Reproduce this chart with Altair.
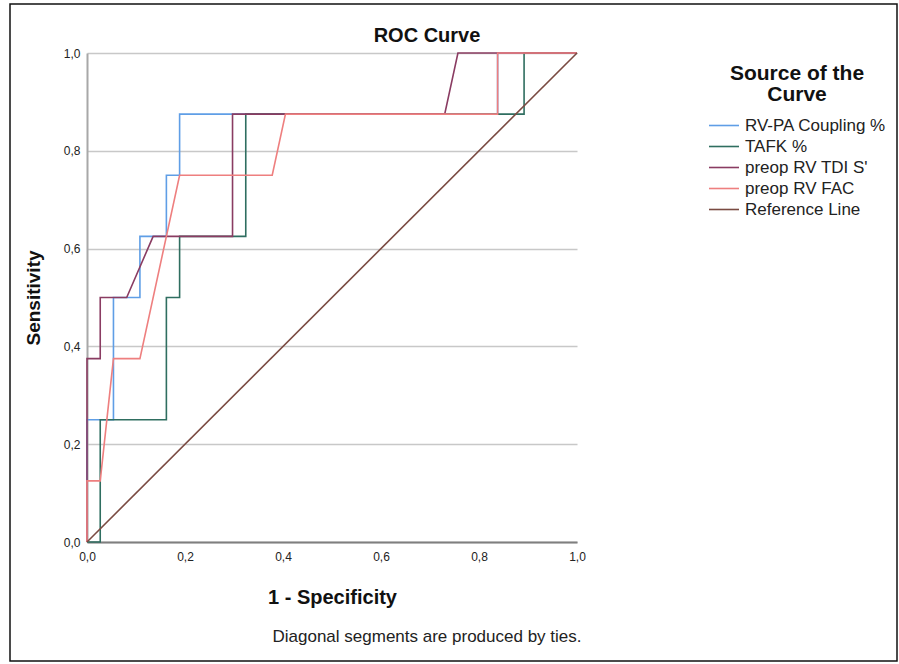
import altair as alt
import pandas as pd

# ROC curve coordinates per test variable (1 - specificity, sensitivity)
coupling_fpr = [0.0, 0.0, 0.054, 0.054, 0.108, 0.108, 0.162, 0.162, 0.189, 0.189, 0.838, 0.838, 1.0]
coupling_tpr = [0.0, 0.25, 0.25, 0.5, 0.5, 0.625, 0.625, 0.75, 0.75, 0.875, 0.875, 1.0, 1.0]

tafk_fpr = [0.0, 0.027, 0.027, 0.162, 0.162, 0.189, 0.189, 0.324, 0.324, 0.892, 0.892, 1.0]
tafk_tpr = [0.0, 0.0, 0.25, 0.25, 0.5, 0.5, 0.625, 0.625, 0.875, 0.875, 1.0, 1.0]

tdi_fpr = [0.0, 0.0, 0.027, 0.027, 0.081, 0.135, 0.297, 0.297, 0.730, 0.757, 1.0]
tdi_tpr = [0.0, 0.375, 0.375, 0.5, 0.5, 0.625, 0.625, 0.875, 0.875, 1.0, 1.0]

fac_fpr = [0.0, 0.0, 0.027, 0.054, 0.108, 0.189, 0.378, 0.405, 0.838, 0.838, 1.0]
fac_tpr = [0.0, 0.125, 0.125, 0.375, 0.375, 0.75, 0.75, 0.875, 0.875, 1.0, 1.0]

ref_fpr = [0.0, 1.0]
ref_tpr = [0.0, 1.0]

series_names = ["RV-PA Coupling %", "TAFK %", "preop RV TDI S'", "preop RV FAC", "Reference Line"]
series_colors = ["#5f9ee6", "#2f6e60", "#8a3c62", "#ee7f7f", "#7a4b42"]
y_ticks = [0.0, 0.2, 0.4, 0.6, 0.8, 1.0]
x_ticks = [0.0, 0.2, 0.4, 0.6, 0.8, 1.0]

rows = []
for name, xs, ys in zip(
    series_names,
    [coupling_fpr, tafk_fpr, tdi_fpr, fac_fpr, ref_fpr],
    [coupling_tpr, tafk_tpr, tdi_tpr, fac_tpr, ref_tpr],
):
    for i, (fx, ty) in enumerate(zip(xs, ys)):
        rows.append({"source": name, "fpr": fx, "tpr": ty, "step": i})
df = pd.DataFrame(rows)

FONT = "Liberation Sans"
comma_fmt = "replace(format(datum.value, '.1f'), '.', ',')"

W, H = 490, 489

curves = alt.Chart(df).mark_line(strokeWidth=1.6, interpolate="linear").encode(
    x=alt.X(
        "fpr:Q",
        scale=alt.Scale(domain=[0, 1], nice=False),
        axis=alt.Axis(
            values=x_ticks, labelExpr=comma_fmt, title="1 - Specificity",
            grid=False, ticks=False, labelFlush=False, labelPadding=9, titlePadding=25,
            labelFont=FONT, labelFontSize=12, labelColor="#222222",
            titleFont=FONT, titleFontSize=20, titleFontWeight="bold", titleColor="#111111",
            domainColor="#7f7f7f", domainWidth=2,
        ),
    ),
    y=alt.Y(
        "tpr:Q",
        scale=alt.Scale(domain=[0, 1], nice=False),
        axis=alt.Axis(
            values=y_ticks, labelExpr=comma_fmt, title="Sensitivity",
            grid=True, gridColor="#c8c8c8", gridWidth=1.5, ticks=False,
            labelFlush=False, labelPadding=7, titlePadding=20,
            labelFont=FONT, labelFontSize=12, labelColor="#222222",
            titleFont=FONT, titleFontSize=19, titleFontWeight="bold", titleColor="#111111",
            domainColor="#a8a8a8", domainWidth=2,
        ),
    ),
    color=alt.Color(
        "source:N",
        scale=alt.Scale(domain=series_names, range=series_colors),
        legend=alt.Legend(
            title=["Source of the", "Curve"], orient="none", legendX=621, legendY=10,
            titleFont=FONT, titleFontSize=21, titleFontWeight="bold", titleColor="#111111",
            titleAnchor="middle", titleAlign="center", titlePadding=10, titleLineHeight=21,
            labelFont=FONT, labelFontSize=17, labelColor="#222222", labelOffset=5,
            symbolType="stroke", symbolSize=900, symbolStrokeWidth=1.6, symbolOpacity=1,
            rowPadding=0, clipHeight=21,
        ),
    ),
    detail="source:N",
    order="step:Q",
)

title_df = pd.DataFrame({"t": ["ROC Curve"]})
title = alt.Chart(title_df).mark_text(
    font=FONT, fontSize=20, fontWeight="bold", color="#111111", align="center", baseline="middle"
).encode(text="t:N", x=alt.value(340), y=alt.value(-17))

note_df = pd.DataFrame({"t": ["Diagonal segments are produced by ties."]})
note = alt.Chart(note_df).mark_text(
    font=FONT, fontSize=17, color="#222222", align="center", baseline="middle"
).encode(text="t:N", x=alt.value(340), y=alt.value(584))

frame_df = pd.DataFrame({"k": [0]})
frame = alt.Chart(frame_df).mark_rect(fill=None, stroke="#111111", strokeWidth=1.5).encode(
    x=alt.value(-77), x2=alt.value(810), y=alt.value(-49), y2=alt.value(608)
)

chart = alt.layer(curves, title, note, frame).properties(
    width=W, height=H,
    padding={"left": 87, "top": 53, "right": 322, "bottom": 122},
    autosize=alt.AutoSizeParams(type="none"),
    background="white",
).configure_view(stroke=None)

chart.save("out.html", embed_options={"renderer": "svg", "actions": False})
